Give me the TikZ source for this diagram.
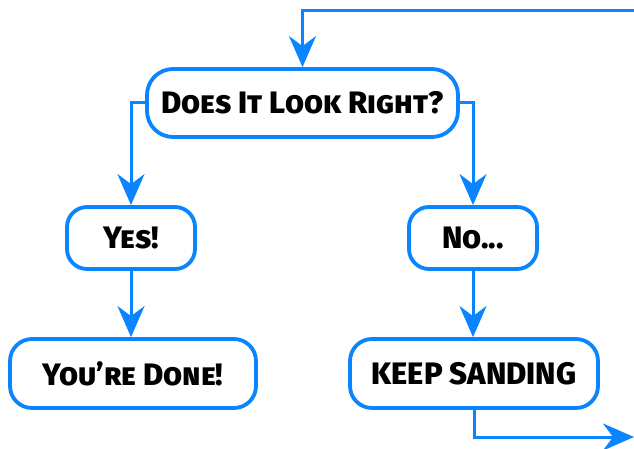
\documentclass[tikz,border=0pt]{standalone}
\usepackage{fontspec}
\setmainfont{Fira Sans}[BoldFont={Fira Sans ExtraBold}]
\usetikzlibrary{arrows.meta}
\definecolor{flowblue}{RGB}{10,132,255}
\begin{document}
\begin{tikzpicture}[x=1pt,y=1pt,
  box/.style={draw=flowblue, line width=3.8pt, fill=white, align=center,
    inner sep=0pt, font=\bfseries\fontsize{31}{33}\selectfont},
  conn/.style={draw=flowblue, line width=3pt,
    -{Stealth[length=31pt,width=27pt,inset=10pt]}}]
\useasboundingbox (0,0) rectangle (634,-449);
\node[box, minimum width=311pt, minimum height=68pt, rounded corners=26pt] (q) at (302.5,-103) {\textsc{Does It Look Right?}};
\node[box, minimum width=128pt, minimum height=62pt, rounded corners=20pt] (yes) at (131,-238) {\textsc{Yes!}};
\node[box, minimum width=128pt, minimum height=62pt, rounded corners=20pt] (no) at (473,-238) {\textsc{No...}};
\node[box, minimum width=246pt, minimum height=69pt, rounded corners=22pt] (done) at (133,-373.5) {\textsc{You’re Done!}};
\node[box, minimum width=248pt, minimum height=69pt, rounded corners=22pt] (keep) at (474,-373.5) {KEEP SANDING};
\coordinate (tr) at (640,-11);
\coordinate (br) at (634,-437);
\draw[conn] (tr) -| (q.north);
\draw[conn] (q.west) -| (yes.north);
\draw[conn] (q.east) -| (no.north);
\draw[conn] (yes.south) -- (yes.south |- done.north);
\draw[conn] (no.south) -- (no.south |- keep.north);
\draw[conn] (keep.south) |- (br);
\end{tikzpicture}
\end{document}
